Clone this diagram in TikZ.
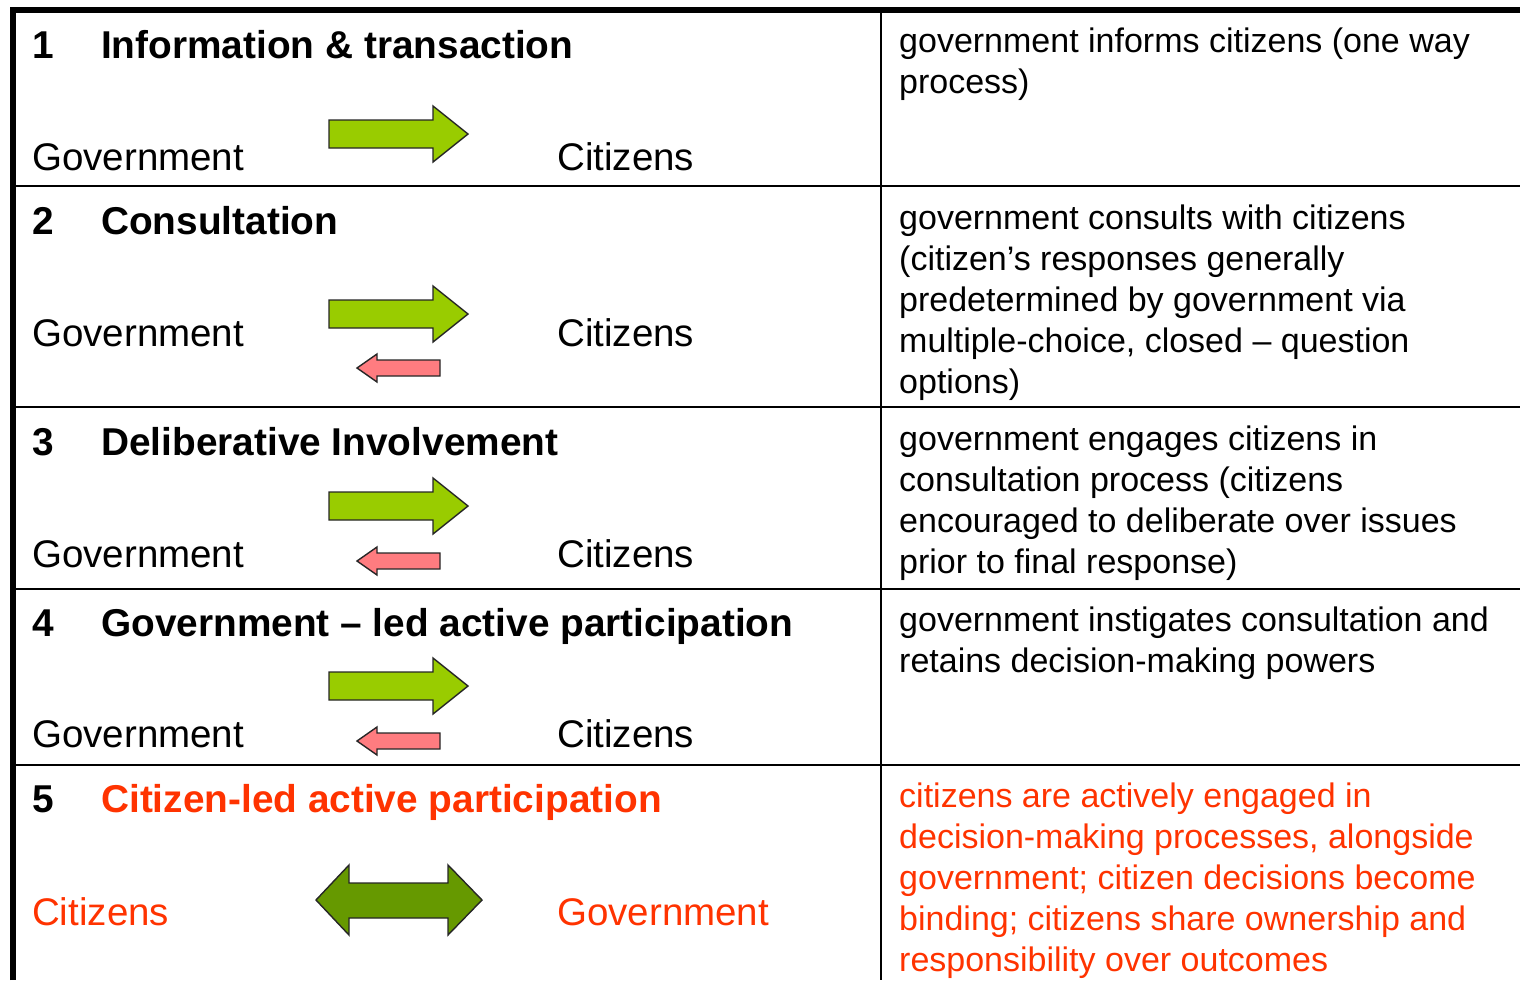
\documentclass[tikz,border=0pt]{standalone}
\usepackage{fontspec}
\setmainfont{Liberation Sans}
\definecolor{arrowgreen}{HTML}{99CC00}
\definecolor{darkgreen}{HTML}{669900}
\definecolor{arrowred}{HTML}{FF7C80}
\definecolor{textred}{HTML}{FF3300}
\tikzset{
    lefttext/.style={anchor=base west, inner sep=0pt, font=\fontsize{38.5}{46}\selectfont},
    titletext/.style={lefttext, font=\fontsize{38.8}{46}\selectfont\bfseries},
    desctext/.style={anchor=base west, inner sep=0pt, align=left, font=\fontsize{34}{41}\selectfont},
    blockarrow/.style={draw=black!85, line width=1.4pt, line join=miter}
}

\begin{document}
\begin{tikzpicture}[x=1pt,y=-1pt]
        \useasboundingbox (0,0) rectangle (1520,980);
        % grid of the table
        \draw[line width=6pt] (13,980) -- (13,10) -- (1520,10);
        \foreach \yl in {186,407,589,765}
        {
            \draw[line width=2.5pt] (13,\yl) -- (1520,\yl);
        }
        \draw[line width=2.5pt] (881,10) -- (881,980);
        % rows 1 to 4
        \foreach \jr/\ttl/\ytitle/\yname in {
            1/Information \& transaction/58/170,
            2/Consultation/234/346,
            3/Deliberative Involvement/455/567,
            4/Government – led active participation/636/747}
        {
            \node[titletext] (num\jr) at (32,\ytitle) {\jr};
            \node[titletext] (title\jr) at (101,\ytitle) {\ttl};
            \node[lefttext] (gov\jr) at (32,\yname) {Government};
            \node[lefttext] (cit\jr) at (557,\yname) {Citizens};
        }
        % green arrows
        \foreach \cy in {134,314,506,686}
        {
            \draw[blockarrow, fill=arrowgreen] (329,\cy-14) -- (433,\cy-14) -- (433,\cy-28)
                -- (468,\cy) -- (433,\cy+28) -- (433,\cy+14) -- (329,\cy+14) -- cycle;
        }
        % red arrows
        \foreach \cy in {368,561,741}
        {
            \draw[blockarrow, fill=arrowred] (440,\cy-8) -- (377,\cy-8) -- (377,\cy-14)
                -- (357,\cy) -- (377,\cy+14) -- (377,\cy+8) -- (440,\cy+8) -- cycle;
        }
        % row 5
        \node[titletext, text=black] (num5) at (32,812) {5};
        \node[titletext, text=textred] (title5) at (101,812) {Citizen-led active participation};
        \node[lefttext, text=textred] (cit5) at (32,925) {Citizens};
        \node[lefttext, text=textred] (gov5) at (557,925) {Government};
        \draw[blockarrow, fill=darkgreen] (316,900) -- (349,865) -- (349,883) -- (448,883)
            -- (448,865) -- (482,900) -- (448,935) -- (448,918) -- (349,918) -- (349,935) -- cycle;
        % descriptions (placed by the baseline of their last line)
        \node[desctext] (desc1) at (899,93) {government informs citizens (one way\\process)};
        \node[desctext] (desc2) at (899,393) {government consults with citizens\\(citizen’s responses generally\\predetermined by government via\\multiple-choice, closed – question\\options)};
        \node[desctext] (desc3) at (899,573) {government engages citizens in\\consultation process (citizens\\encouraged to deliberate over issues\\prior to final response)};
        \node[desctext] (desc4) at (899,672) {government instigates consultation and\\retains decision-making powers};
        \node[desctext, text=textred] (desc5) at (899,971) {citizens are actively engaged in\\decision-making processes, alongside\\government; citizen decisions become\\binding; citizens share ownership and\\responsibility over outcomes};
    \end{tikzpicture}
\end{document}
